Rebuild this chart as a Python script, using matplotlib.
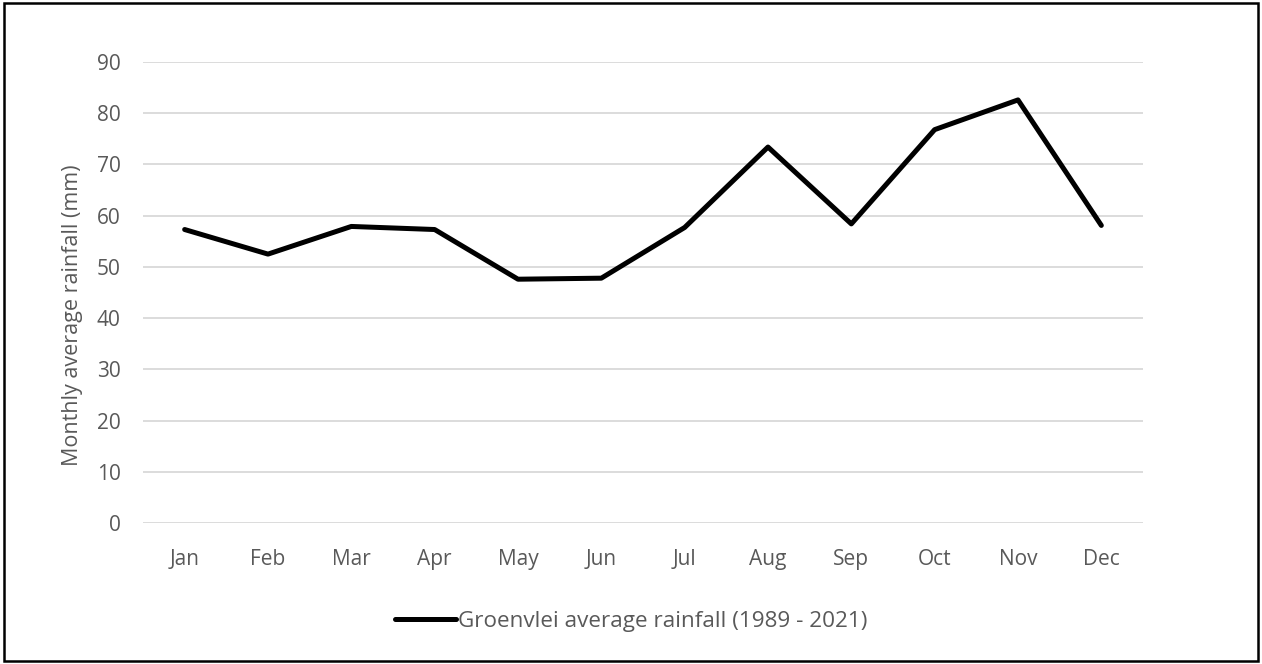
import matplotlib.pyplot as plt
from matplotlib.patches import Rectangle

months = ["Jan", "Feb", "Mar", "Apr", "May", "Jun",
          "Jul", "Aug", "Sep", "Oct", "Nov", "Dec"]
rainfall = [57.3, 52.5, 57.9, 57.3, 47.6, 47.8,
            57.7, 73.4, 58.4, 76.8, 82.6, 58.1]
yticks = [0, 10, 20, 30, 40, 50, 60, 70, 80, 90]

plt.rcParams['font.family'] = ['Open Sans', 'DejaVu Sans']
text_color = "#595959"

fig = plt.figure(figsize=(12.62, 6.64), dpi=100)
ax = fig.add_axes([0.1133, 0.2123, 0.7924, 0.6943])

x = list(range(len(months)))
ax.plot(x, rainfall, color="black", linewidth=3.6, solid_joinstyle="round",
        solid_capstyle="round", label="Groenvlei average rainfall (1989 - 2021)")

ax.set_xlim(-0.5, len(months) - 0.5)
ax.set_ylim(0, 90)
ax.set_yticks(yticks)
ax.set_xticks(x)
ax.set_xticklabels(months)
ax.yaxis.grid(True, color="#d9d9d9", linewidth=1.3)
ax.set_axisbelow(True)
for s in ax.spines.values():
    s.set_visible(False)
ax.tick_params(length=0, labelsize=15, labelcolor=text_color)
ax.tick_params(axis="x", pad=19)
ax.tick_params(axis="y", pad=16)
ax.set_ylabel("Monthly average rainfall (mm)", fontsize=15.5, color=text_color)
ax.yaxis.set_label_coords(-0.06, 0.45)

leg = fig.legend(loc="center", bbox_to_anchor=(0.5, 0.064), frameon=False,
                 fontsize=16.2, handlelength=2.7, handletextpad=0.1)
for t in leg.get_texts():
    t.set_color(text_color)

# outer frame
fig.patches.append(Rectangle((0.003, 0.004), 0.994, 0.991, transform=fig.transFigure,
                             fill=False, edgecolor="black", linewidth=1.8))

fig.savefig("out.png", dpi=100)
